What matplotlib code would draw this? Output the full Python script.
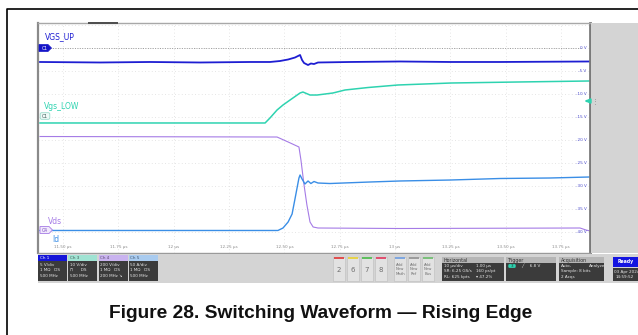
import matplotlib
matplotlib.use("Agg")
import matplotlib.pyplot as plt
from matplotlib.patches import Rectangle, Polygon, FancyBboxPatch
from matplotlib.lines import Line2D
import matplotlib.transforms as mtransforms

# ---- waveform readings (time in µs, display level in V on the 5 V/div scale) ----
vgs_up_t = [11.396, 11.667, 11.893, 12.119, 12.345, 12.435, 12.480, 12.517, 12.548,
            12.571, 12.580, 12.589, 12.607, 12.620, 12.634, 12.652, 12.797, 13.023,
            13.249, 13.474, 13.881]
vgs_up_v = [-3.04, -3.15, -3.04, -3.15, -3.04, -3.04, -2.83, -2.50, -2.07,
            -1.52, -2.61, -3.26, -3.70, -3.37, -3.48, -3.15, -3.04, -2.93,
            -3.04, -3.04, -2.93]

vgs_low_t = [11.396, 12.413, 12.435, 12.467, 12.494, 12.526, 12.571, 12.584, 12.616,
             12.648, 12.720, 12.774, 12.878, 13.014, 13.253, 13.556, 13.881]
vgs_low_v = [-16.30, -16.30, -15.22, -13.48, -12.39, -11.30, -9.78, -9.57, -10.22,
             -10.22, -9.78, -9.13, -8.59, -8.04, -7.61, -7.39, -7.17]

vds_t = [11.396, 12.467, 12.517, 12.566, 12.575, 12.589, 12.602, 12.616, 12.630,
         12.652, 13.023, 13.836, 13.863, 13.881]
vds_v = [-19.24, -19.35, -20.43, -21.52, -24.35, -29.78, -34.13, -37.83, -38.91,
         -39.13, -39.24, -39.13, -39.57, -39.78]

id_t = [11.396, 12.471, 12.494, 12.517, 12.535, 12.548, 12.566, 12.571, 12.580,
        12.593, 12.607, 12.620, 12.634, 12.652, 12.706, 12.887, 13.023, 13.249,
        13.474, 13.700, 13.881]
id_v = [-39.67, -39.67, -39.13, -37.83, -36.09, -32.83, -28.26, -27.61, -28.48,
        -29.57, -28.91, -29.46, -29.02, -29.35, -29.46, -29.13, -28.91, -28.70,
        -28.37, -28.26, -28.04]

time_ticks = [11.50, 11.75, 12.00, 12.25, 12.50, 12.75, 13.00, 13.25, 13.50, 13.75]
time_labels = ["11.50 µs", "11.75 µs", "12 µs", "12.25 µs", "12.50 µs", "12.75 µs",
               "13 µs", "13.25 µs", "13.50 µs", "13.75 µs"]
volt_ticks = [0, -5, -10, -15, -20, -25, -30, -35, -40]
volt_labels = ["0 V", "-5 V", "-10 V", "-15 V", "-20 V", "-25 V", "-30 V", "-35 V", "-40 V"]
grid_levels = [5, 0, -5, -10, -15, -20, -25, -30, -35, -40]

C_UP = "#1e1ed2"
C_LOW = "#2ed3b0"
C_VDS = "#a57be6"
C_ID = "#3a8ee6"

W, H = 638, 335
fig = plt.figure(figsize=(W / 100, H / 100), dpi=100)
fig.patch.set_facecolor("white")


def frac(x0, y0, x1, y1):
    return [x0 / W, 1 - y1 / H, (x1 - x0) / W, (y1 - y0) / H]


# ---- graticule ----
ax = fig.add_axes(frac(38, 23, 590, 253))
ax.set_facecolor("white")
ax.set_xlim(11.387, 13.881)
ax.set_ylim(-44.565, 5.435)
ax.set_xticks(time_ticks)
ax.set_yticks(grid_levels)
ax.tick_params(length=0, labelleft=False, labelbottom=False)
ax.grid(True, color="#dcdcdc", linestyle=(0, (1, 3)), linewidth=0.6)
for side, col, lw in [("left", "#8a8a8a", 1.6), ("right", "#7a7a7a", 2.0),
                      ("top", "#a8a8a8", 1.0), ("bottom", "#9a9a9a", 1.0)]:
    ax.spines[side].set_color(col)
    ax.spines[side].set_linewidth(lw)

ax.axhline(0, color="#9a9a9a", linestyle=(0, (1, 1.5)), linewidth=0.7, xmax=0.985)

ax.plot(vgs_low_t, vgs_low_v, color=C_LOW, lw=1.1, solid_joinstyle="round")
ax.plot(vds_t, vds_v, color=C_VDS, lw=0.8, solid_joinstyle="round")
ax.plot(id_t, id_v, color=C_ID, lw=1.0, solid_joinstyle="round")
ax.plot(vgs_up_t, vgs_up_v, color=C_UP, lw=1.3, solid_joinstyle="round")

xb = mtransforms.blended_transform_factory(ax.transData, ax.transAxes)
for t, lab in zip(time_ticks, time_labels):
    ax.text(t, 0.028, lab, transform=xb, ha="center", va="center",
            fontsize=3.0, color="#8c8c8c")
yb = mtransforms.blended_transform_factory(ax.transAxes, ax.transData)
for v, lab in zip(volt_ticks, volt_labels):
    ax.text(0.994, v, lab, transform=yb, ha="right", va="center",
            fontsize=3.0, color="#5050d0")

ax.text(0.013, 0.939, "VGS_UP", transform=ax.transAxes, fontsize=5.5, color=C_UP,
        ha="left", va="center")
ax.text(0.011, 0.635, "Vgs_LOW", transform=ax.transAxes, fontsize=5.5, color=C_LOW,
        ha="left", va="center")
ax.text(0.018, 0.135, "Vds", transform=ax.transAxes, fontsize=5.5, color=C_VDS,
        ha="left", va="center")
ax.text(0.025, 0.057, "Id", transform=ax.transAxes, fontsize=5.5, color=C_ID,
        ha="left", va="center")

# ---- overlay for instrument chrome ----
ui = fig.add_axes([0, 0, 1, 1])
ui.set_xlim(0, W)
ui.set_ylim(H, 0)
ui.axis("off")
ui.patch.set_alpha(0)


def rect(x0, y0, x1, y1, fc, ec="none", lw=0.0, z=2):
    ui.add_patch(Rectangle((x0, y0), x1 - x0, y1 - y0, facecolor=fc, edgecolor=ec,
                           linewidth=lw, zorder=z))


# outer frame
ui.add_line(Line2D([7, 7, W], [H, 9, 9], color="black", lw=1.2, zorder=5))

# right side panel and top bar accent
rect(591, 23, W, 253, "#d4d4d4")
rect(88, 22.2, 118, 24.2, "#505050", z=3)
ui.text(595, 101, "⋮", fontsize=5, color="#888888", ha="center", va="center")
ui.annotate("", xy=(582, 101), xytext=(590, 101),
            arrowprops=dict(arrowstyle="-|>", color=C_LOW, lw=1.6,
                            mutation_scale=6), zorder=6)

# channel badges
ui.add_patch(Polygon([(39, 44.5), (48, 44.5), (51.5, 48), (48, 51.5), (39, 51.5)],
                     closed=True, facecolor="#1515c8", edgecolor="#1515c8", lw=0.5, zorder=6))
ui.text(44.5, 48.2, "C1", fontsize=3.3, color="white", ha="center", va="center", zorder=7)
ui.add_patch(FancyBboxPatch((40.5, 113), 9, 6, boxstyle="round,pad=0.3,rounding_size=1.5",
                            facecolor="#effaf7", edgecolor="#9adccc", lw=0.6, zorder=6))
ui.text(45, 116.2, "C1", fontsize=3.3, color="#3a5a55", ha="center", va="center", zorder=7)
ui.add_patch(Polygon([(40, 226.5), (49, 226.5), (52.5, 230), (49, 233.5), (40, 233.5)],
                     closed=True, facecolor="#f1e9fc", edgecolor=C_VDS, lw=0.6, zorder=6))
ui.text(45, 230.2, "C4", fontsize=3.3, color="#7a4cc0", ha="center", va="center", zorder=7)

# status bar
rect(38, 253.5, W, 283, "#d4d4d4", z=1)

channels = [("Ch 1", 38, "#1515d8", "white", ["5 V/div", "1 MΩ   DS", "500 MHz"]),
            ("Ch 3", 68, "#a0e3d3", "#405a55", ["10 V/div", "⊓      DS", "500 MHz"]),
            ("Ch 4", 98.5, "#c9b3ef", "#5a4a70", ["200 V/div", "1 MΩ   DS", "200 MHz ↘"]),
            ("Ch 5", 128.5, "#a9cbef", "#405570", ["50 A/div", "1 MΩ   DS", "500 MHz"])]
for name, x0, hc, htc, lines in channels:
    rect(x0, 255, x0 + 29, 261, hc, z=3)
    rect(x0, 261, x0 + 29, 280.5, "#3b3b3b", z=3)
    ui.text(x0 + 2, 258.2, name, fontsize=3.0, color=htc, ha="left", va="center", zorder=4)
    for i, s in enumerate(lines):
        ui.text(x0 + 1.5, 264.5 + 5.6 * i, s, fontsize=3.0, color="#e6e6e6",
                ha="left", va="center", zorder=4)

for x0, strip, lab in zip([333, 347, 361, 375], ["#e05050", "#e6d24a", "#5fbf5f", "#e05070"],
                          ["2", "6", "7", "8"]):
    rect(x0, 257, x0 + 11.5, 280.5, "#e2e2e2", ec="#bdbdbd", lw=0.4, z=3)
    rect(x0 + 1, 257.3, x0 + 10.5, 258.5, strip, z=4)
    ui.text(x0 + 5.75, 270, lab, fontsize=5, color="#707070", ha="center", va="center", zorder=4)

for x0, strip, lab in zip([394, 408, 422], ["#7fa7e0", "#9c9c9c", "#7cc07c"],
                          ["Add\nNew\nMath", "Add\nNew\nRef", "Add\nNew\nBus"]):
    rect(x0, 257, x0 + 12, 280.5, "#e2e2e2", ec="#bdbdbd", lw=0.4, z=3)
    rect(x0 + 1, 257.3, x0 + 11, 258.5, strip, z=4)
    ui.text(x0 + 6, 269.5, lab, fontsize=2.8, color="#707070", ha="center", va="center",
            linespacing=1.1, zorder=4)


def panel(x0, x1, title, rows):
    rect(x0, 257, x1, 263, "#b6b6b6", z=3)
    rect(x0, 263, x1, 280.5, "#3b3b3b", z=3)
    ui.text(x0 + 2, 260.1, title, fontsize=3.4, color="#303030", ha="left", va="center", zorder=4)
    for i, row in enumerate(rows):
        for dx, s in row:
            ui.text(x0 + dx, 266 + 5.3 * i, s, fontsize=3.0, color="#e6e6e6",
                    ha="left", va="center", zorder=4)


panel(442, 504, "Horizontal", [[(2, "10 µs/div"), (34, "1.00 µs")],
                               [(2, "SR: 6.25 GS/s"), (34, "160 ps/pt")],
                               [(2, "RL: 625 kpts"), (34, "▾ 47.2%")]])
panel(506, 556, "Trigger", [[(15, "╱     6.8 V")]])
ui.add_patch(FancyBboxPatch((508.5, 264.3), 7, 3.4, boxstyle="round,pad=0.2,rounding_size=1.2",
                            facecolor="#2ed3b0", edgecolor="none", zorder=5))
ui.text(512, 266.1, "3", fontsize=3.0, color="#1a3a35", ha="center", va="center", zorder=6)
panel(559, 604, "Acquisition", [[(2, "Auto,"), (30, "Analyze")],
                                [(2, "Sample: 8 bits")],
                                [(2, "2 Acqs")]])

rect(613, 257, W, 267, "#1414e0", z=3)
ui.text(625.5, 262, "Ready", fontsize=3.3, color="white", ha="center", va="center",
        weight="bold", zorder=4)
rect(613, 268, W, 280.5, "#3b3b3b", z=3)
ui.text(614, 271.5, "03 Apr 2024", fontsize=3.0, color="#e6e6e6", ha="left", va="center", zorder=4)
ui.text(616, 277, "14:59:52", fontsize=3.0, color="#e6e6e6", ha="left", va="center", zorder=4)

# caption
ui.text(321, 314, "Figure 28. Switching Waveform — Rising Edge", fontsize=13.8,
        family="Liberation Sans", weight="bold", color="#111111", ha="center", va="center")

fig.savefig("out.png", dpi=100, facecolor="white")
